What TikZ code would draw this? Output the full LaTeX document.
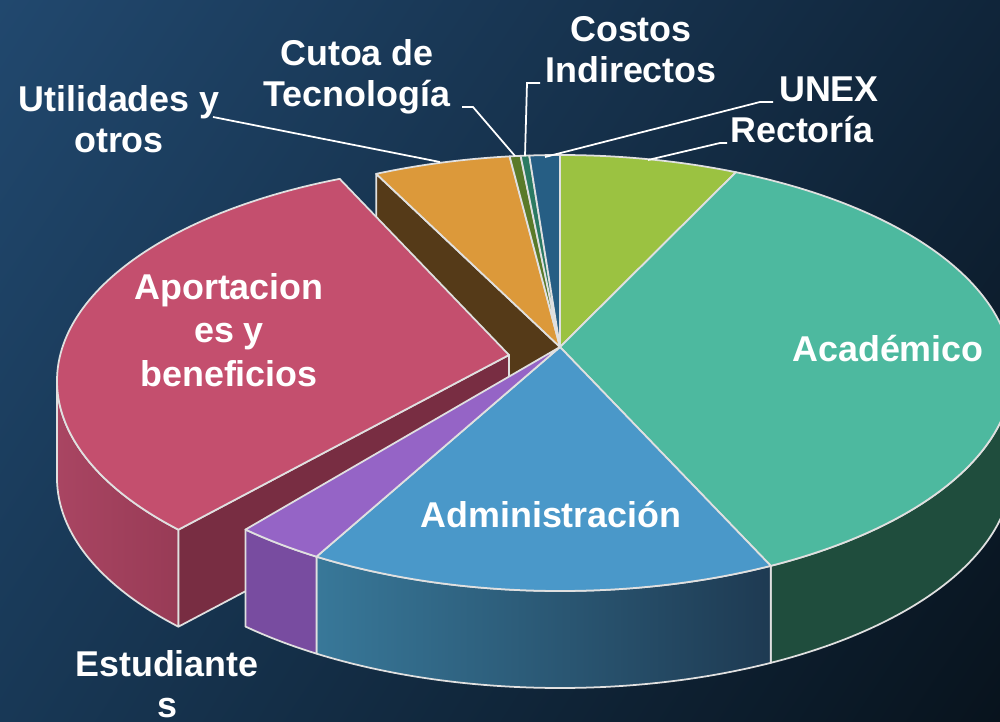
\documentclass[tikz,border=0pt]{standalone}
\usepackage{fontspec}
\setmainfont{Liberation Sans}
\usetikzlibrary{calc,shadings}

\definecolor{bgUL}{HTML}{21486E}
\definecolor{bgUR}{HTML}{10253A}
\definecolor{bgLL}{HTML}{183856}
\definecolor{bgLR}{HTML}{08131D}
\definecolor{rectT}{HTML}{9BC241}
\definecolor{acadT}{HTML}{4DB99F}
\definecolor{acadS}{HTML}{1F4D3D}
\definecolor{admT}{HTML}{4A98C9}
\definecolor{admSL}{HTML}{387899}
\definecolor{admSR}{HTML}{1E3A52}
\definecolor{estT}{HTML}{9564C6}
\definecolor{estS}{HTML}{784CA0}
\definecolor{aporT}{HTML}{C44F6E}
\definecolor{aporSL}{HTML}{A94562}
\definecolor{aporSR}{HTML}{983B56}
\definecolor{aporD}{HTML}{782D42}
\definecolor{utilT}{HTML}{DC993A}
\definecolor{utilD}{HTML}{553A18}
\definecolor{cutT}{HTML}{5A7A29}
\definecolor{cosT}{HTML}{2B7A62}
\definecolor{unexT}{HTML}{265E84}

% top face and front side of one slice
\newcommand\pieTop[5]{\path[rim,fill=#5] (#2) -- ($(#1)+(#3:452 and 218)$)
  arc[start angle=#3,end angle=#4,x radius=452,y radius=218] -- cycle;}
\newcommand\pieSide[4]{\path[rim,#4] ($(#1)+(#2:452 and 218)$)
  arc[start angle=#2,end angle=#3,x radius=452,y radius=218] -- ++(0,97)
  arc[start angle=#3,end angle=#2,x radius=452,y radius=218] -- cycle;}

\begin{document}
\begin{tikzpicture}[x=0.01cm,y=-0.01cm,
  rim/.style={draw=white!88!black,line width=0.5pt,line join=round},
  lead/.style={draw=white,line width=0.5pt},
  lbl/.style={text=white,font=\bfseries\fontsize{10.2}{11.7}\selectfont,align=center,inner sep=0pt}]
\useasboundingbox (0,0) rectangle (1000,721);
\shade[upper left=bgUL,upper right=bgUR,lower left=bgLL,lower right=bgLR] (0,0) rectangle (1000,721);
\clip (0,0) rectangle (1000,721);

\coordinate (O) at (560,347);
\coordinate (E) at (560,373);
\coordinate (Op) at (509,355);
\coordinate (Ep) at (509,381);

% side of Utilidades left bare by the pulled out slice
\path[rim,fill=utilD] (O) -- ($(E)+(246:452 and 218)$) -- ++(0,97) -- ($(O)+(0,97)$) -- cycle;

% Aportaciones, pulled out
\pieSide{Ep}{137}{180}{left color=aporSL,right color=aporSR}
\path[rim,fill=aporD] (Op) -- ($(Ep)+(137:452 and 218)$) -- ++(0,97) -- ($(Op)+(0,97)$) -- cycle;
\pieTop{Ep}{Op}{137}{248}{aporT}

% sides of the rest
\pieSide{E}{0}{62.2}{fill=acadS}
\pieSide{E}{62.2}{122.6}{left color=admSL,right color=admSR}
\pieSide{E}{122.6}{134.1}{fill=estS}

% tops
\pieTop{E}{O}{246}{263.6}{utilT}
\pieTop{E}{O}{263.6}{265}{cutT}
\pieTop{E}{O}{265}{266.1}{cosT}
\pieTop{E}{O}{266.1}{270}{unexT}
\pieTop{E}{O}{270}{292.9}{rectT}
\pieTop{E}{O}{292.9}{422.2}{acadT}
\pieTop{E}{O}{62.2}{122.6}{admT}
\pieTop{E}{O}{122.6}{134.1}{estT}

% labels
\node[lbl] (acad) at (888,349) {Académico};
\node[lbl] (adm) at (551,515) {Administración};
\node[lbl,font=\bfseries\fontsize{10.2}{12.4}\selectfont] (apor) at (229,330) {Aportacion\\es y\\beneficios};
\node[lbl] (est) at (167,684) {Estudiante\\s};
\node[lbl] (util) at (119,119) {Utilidades y\\otros};
\node[lbl] (cut) at (357,77) {Cutoa de\\Tecnología};
\node[lbl] (cos) at (631,50) {Costos\\Indirectos};
\node[lbl] (unex) at (829,89) {UNEX};
\node[lbl] (rect) at (802,130) {Rectoría};

% leader lines
\coordinate (utilA) at (213,117);
\coordinate (utilB) at (440,162);
\coordinate (cutA) at (462,107);
\coordinate (cutK) at (473,107);
\coordinate (cutB) at (515,156);
\coordinate (cosA) at (540,83);
\coordinate (cosK) at (527,83);
\coordinate (cosB) at (525,156);
\coordinate (unexA) at (773,102);
\coordinate (unexK) at (760,102);
\coordinate (unexB) at (545,157);
\coordinate (rectA) at (727,143);
\coordinate (rectK) at (720,143);
\coordinate (rectB) at (648,160);
\draw[lead] (utilA) -- (utilB);
\draw[lead] (cutA) -- (cutK) -- (cutB);
\draw[lead] (cosA) -- (cosK) -- (cosB);
\draw[lead] (unexA) -- (unexK) -- (unexB);
\draw[lead] (rectA) -- (rectK) -- (rectB);
\end{tikzpicture}
\end{document}
